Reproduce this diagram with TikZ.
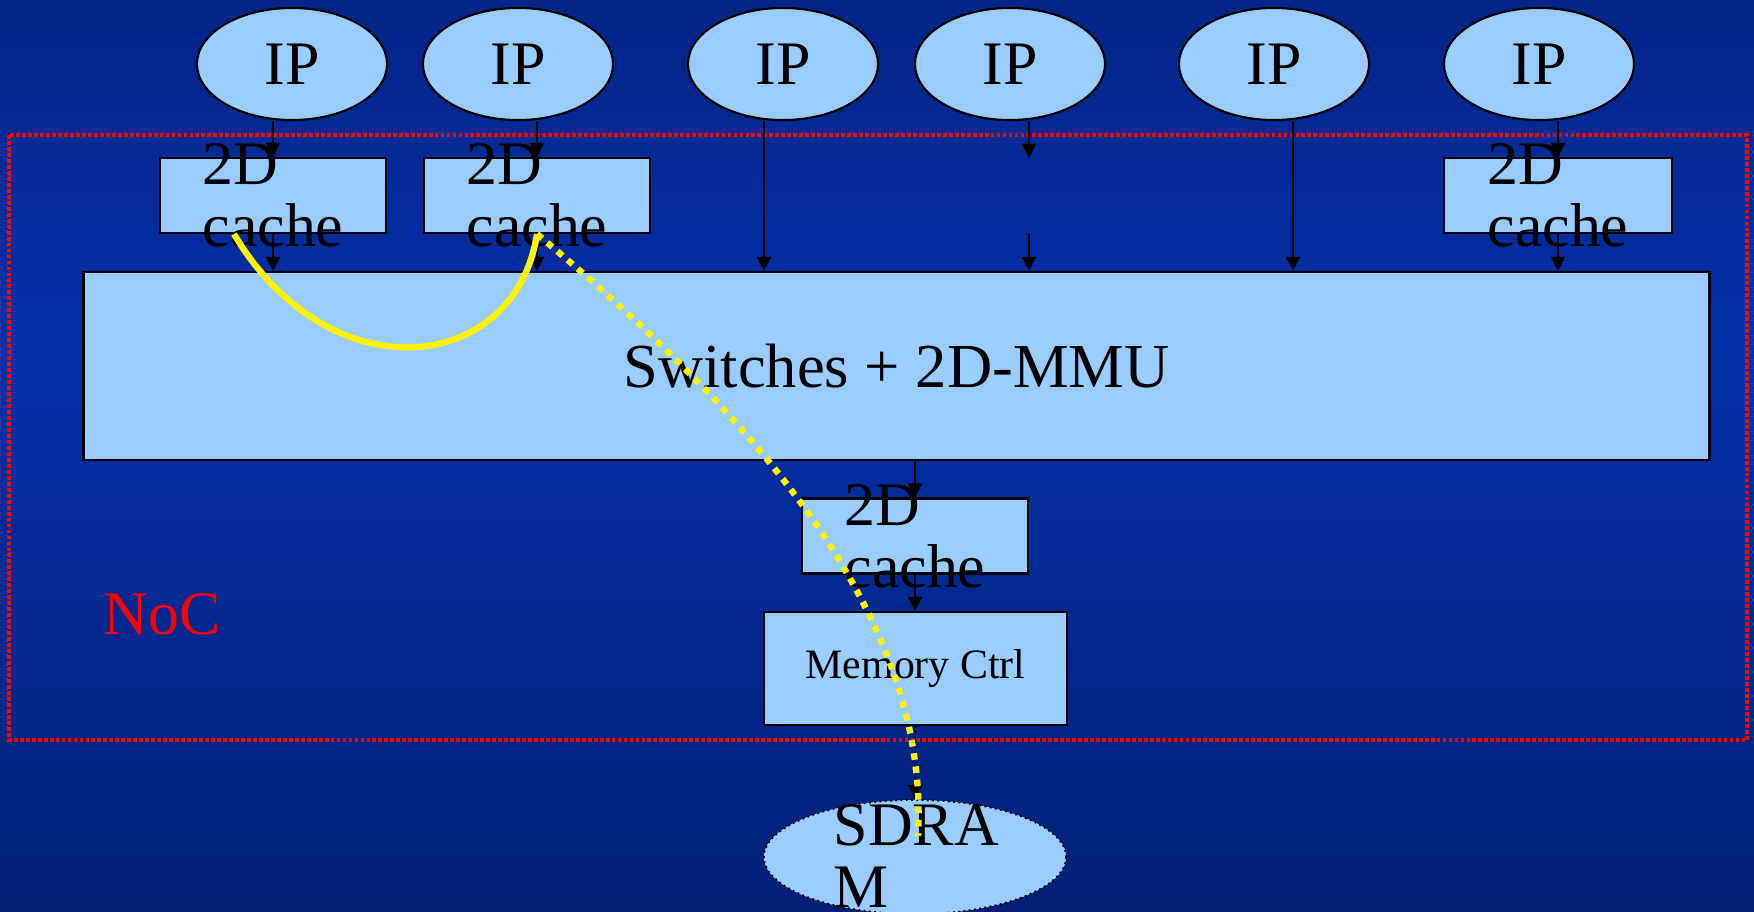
\documentclass[tikz,border=0pt]{standalone}
\usepackage{fontspec}
\setmainfont{Liberation Serif}
\usetikzlibrary{shapes.geometric,arrows.meta}
\definecolor{bgtop}{RGB}{3,37,135}
\definecolor{bgmid}{RGB}{3,48,168}
\definecolor{bgbot}{RGB}{3,32,118}
\definecolor{boxblue}{RGB}{153,204,255}
\begin{document}
\begin{tikzpicture}[x=0.01cm, y=-0.01cm,
  ip/.style={ellipse, draw, fill=boxblue, line width=0.6pt, minimum width=1.9cm, minimum height=1.12cm, inner sep=0pt, font=\fontsize{17.6}{17.6}\selectfont},
  cachebox/.style={rectangle, draw, fill=boxblue, line width=0.6pt, minimum width=2.26cm, minimum height=0.75cm, inner sep=0pt},
  bigtext/.style={align=left, inner sep=0pt, font=\fontsize{17.6}{17.6}\selectfont},
  link/.style={-{Triangle[length=4pt,width=4pt]}, line width=0.45pt},
  trace/.style={yellow, line width=1.8pt}]
\shade[top color=bgtop, bottom color=bgmid] (0,0) rectangle (1754,350);
\shade[top color=bgmid, bottom color=bgbot] (0,349) rectangle (1754,912);
\useasboundingbox (0,0) rectangle (1754,912);

\draw[red, line width=0.9pt, dash pattern=on 1.1pt off 0.6pt] (9,135) rectangle (1747,740);

\node[ip] (ip1) at (292,64) {IP};
\node[ip] (ip2) at (518,64) {IP};
\node[ip] (ip3) at (783,64) {IP};
\node[ip] (ip4) at (1010,64) {IP};
\node[ip] (ip5) at (1274,64) {IP};
\node[ip] (ip6) at (1539,64) {IP};

\node[cachebox] (c1) at (273,195.5) {};
\node[cachebox] (c2) at (537,195.5) {};
\node[cachebox, minimum width=2.28cm] (c3) at (1558,195.5) {};
\node[rectangle, draw, fill=boxblue, line width=0.6pt, minimum width=16.25cm, minimum height=1.88cm, font=\fontsize{17.8}{17.8}\selectfont] (sw) at (896.5,366) {Switches + 2D-MMU};
\node[cachebox] (mc) at (915,536) {};
\node[rectangle, draw, fill=boxblue, line width=0.6pt, minimum width=3.03cm, minimum height=1.13cm, font=\fontsize{11.9}{11.9}\selectfont] (mem) at (915.5,668.5) {Memory Ctrl};
\node[ellipse, draw, densely dotted, fill=boxblue, line width=0.5pt, minimum width=3.02cm, minimum height=1.14cm] (sdram) at (915,857) {};

\node[bigtext] (t1) at (c1.center) {2D\\cache};
\node[bigtext] (t2) at (c2.center) {2D\\cache};
\node[bigtext] (t3) at (c3.center) {2D\\cache};
\node[bigtext] (t4) at (mc.center) {2D\\cache};
\node[bigtext, anchor=base west] (t5) at (833,907) {SDRA\\M};
\node[bigtext, text=red, anchor=base west] (noc) at (103,634) {NoC};

\coordinate (g4a) at (1029,158);
\coordinate (g4b) at (1029,233);

\draw[link] (ip1.south -| c1.north) -- (c1.north);
\draw[link] (c1.south) -- (c1.south |- sw.north);
\draw[link] (ip2.south -| c2.north) -- (c2.north);
\draw[link] (c2.south) -- (c2.south |- sw.north);
\draw[link] ([xshift=-0.19cm]ip3.south) -- ([xshift=-0.19cm]ip3.south |- sw.north);
\draw[link] (ip4.south -| g4a) -- (g4a);
\draw[link] (g4b) -- (g4b |- sw.north);
\draw[link] ([xshift=0.19cm]ip5.south) -- ([xshift=0.19cm]ip5.south |- sw.north);
\draw[link] (ip6.south -| c3.north) -- (c3.north);
\draw[link] (c3.south) -- (c3.south |- sw.north);
\draw[link] (mc.north |- sw.south) -- (mc.north);
\draw[link] (mc.south) -- (mc.south |- mem.north);
\draw[link, densely dotted] (mem.south) -- (sdram.north);

\draw[trace] ([xshift=-0.39cm]c1.south) .. controls (330,395) and (515,375) .. (c2.south);
\draw[trace, dash pattern=on 1.9pt off 1.9pt] (c2.south) .. controls (760,420) and (930,620) .. ([yshift=-0.37cm,xshift=0.03cm]sdram.north);
\end{tikzpicture}
\end{document}
